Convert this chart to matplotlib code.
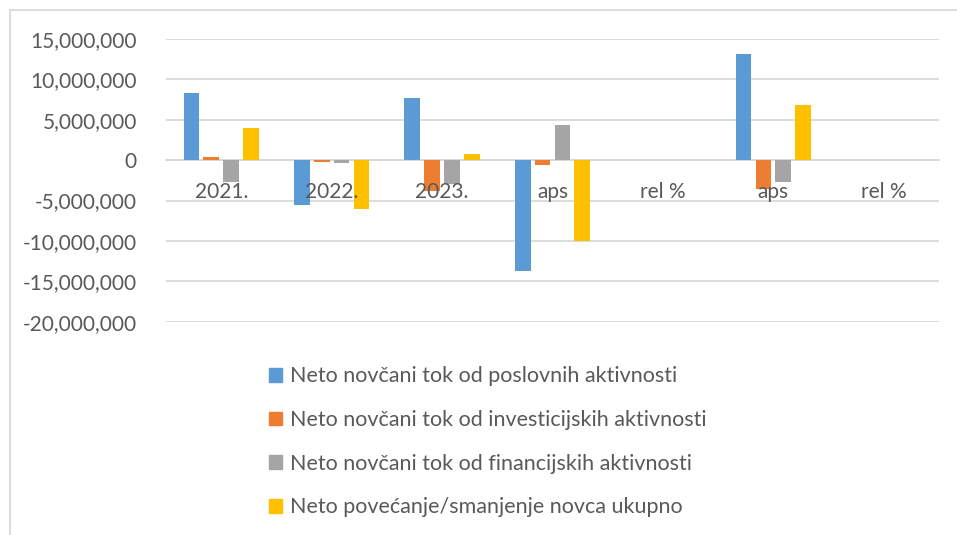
import numpy as np
import matplotlib
matplotlib.use("Agg")
import matplotlib.pyplot as plt
from matplotlib.patches import Patch, Rectangle
from matplotlib.ticker import FuncFormatter

plt.rcParams['font.family'] = ['Lato', 'DejaVu Sans']

kategorije = ["2021.", "2022.", "2023.", "aps", "rel %", "aps", "rel %"]
poslovne = [8270000, -5500000, 7650000, -13700000, 0, 13150000, 0]
investicijske = [330000, -200000, -3850000, -540000, 0, -3600000, 0]
financijske = [-2700000, -330000, -2900000, 4340000, 0, -2700000, 0]
ukupno = [3930000, -6100000, 780000, -10000000, 0, 6820000, 0]

nazivi = ["Neto novčani tok od poslovnih aktivnosti",
          "Neto novčani tok od investicijskih aktivnosti",
          "Neto novčani tok od financijskih aktivnosti",
          "Neto povećanje/smanjenje novca ukupno"]
boje = ["#5b9bd5", "#ed7d31", "#a5a5a5", "#ffc000"]
serije = [poslovne, investicijske, financijske, ukupno]

siva = "#595959"
fig = plt.figure(figsize=(9.57, 5.35), dpi=100)
ax = fig.add_axes([166/957, 1-321.7/535, (939-166)/957, (321.7-39)/535])

x = np.arange(len(kategorije))
for i, (s, b) in enumerate(zip(serije, boje)):
    ax.bar(x + (i - 1.5)*0.18, s, width=0.142, color=b, zorder=2)

ax.set_xlim(-0.5, len(kategorije) - 0.5)
ax.set_ylim(-20000000, 15000000)
ax.set_yticks(np.arange(-20000000, 15000001, 5000000))
ax.yaxis.set_major_formatter(FuncFormatter(lambda v, p: f"{int(v):,}"))
# mreža ispod stupaca, oznake kategorija iznad njih
for t in ax.get_yticks():
    ax.axhline(t, color="#d9d9d9", lw=1.3, zorder=0)
ax.set_xticks(x)
ax.set_xticklabels(kategorije)
ax.xaxis.set_zorder(5)
ax.spines["bottom"].set_position(("data", 0))
ax.spines["bottom"].set_color("#d9d9d9")
ax.spines["bottom"].set_linewidth(1.3)
ax.spines["bottom"].set_zorder(1)
for k in ["top", "left", "right"]:
    ax.spines[k].set_visible(False)
ax.tick_params(axis="both", length=0, labelsize=15, colors=siva)
ax.tick_params(axis="x", pad=16)
ax.tick_params(axis="y", pad=21)

rucke = [Patch(color=b) for b in boje]
fig.legend(rucke, nazivi, loc="upper left", bbox_to_anchor=(250/957, 1-347/535),
           frameon=False, fontsize=15.5, labelcolor=siva, handlelength=0.6,
           handleheight=0.6, handletextpad=0.35, labelspacing=1.1)

fig.add_artist(Rectangle((9.5/957, -0.1), 1.2, 1.1 - 9.5/535, transform=fig.transFigure,
                         fill=False, edgecolor="#d9d9d9", lw=1.3))

fig.savefig("out.png", dpi=100)
